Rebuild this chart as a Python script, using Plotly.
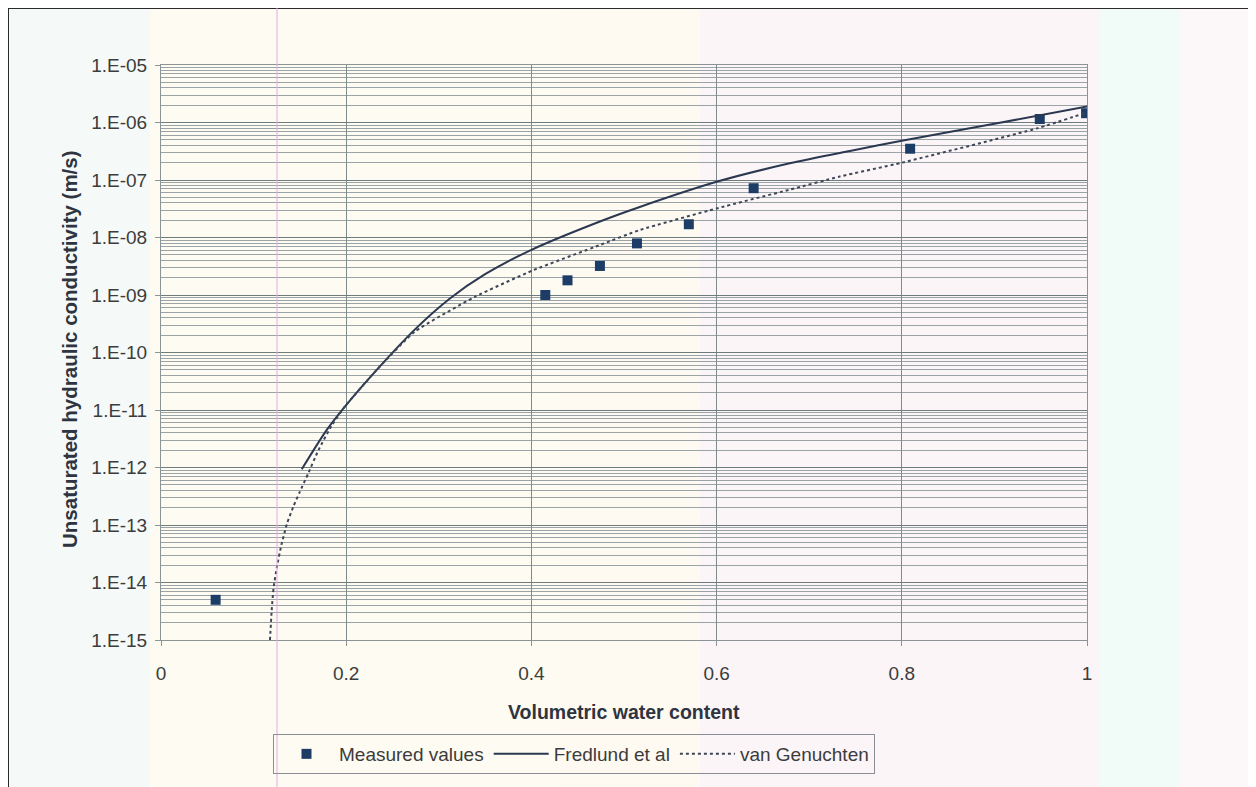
import plotly.graph_objects as go

# ---- data ----
measured_x = [0.059, 0.415, 0.439, 0.474, 0.514, 0.570, 0.640, 0.809, 0.949, 0.999]
measured_k = [5.0e-15, 1.0e-9, 1.8e-9, 3.2e-9, 7.9e-9, 1.7e-8, 7.2e-8, 3.5e-7, 1.15e-6, 1.45e-6]

fredlund_x = [0.152, 0.179, 0.199, 0.233, 0.274, 0.312, 0.35, 0.40, 0.474, 0.517, 0.60,
              0.679, 0.744, 0.80, 0.90, 1.0]
fredlund_k = [9.3e-13, 4.5e-12, 1.17e-11, 5.0e-11, 2.5e-10, 8.7e-10, 2.3e-9, 6.1e-9, 1.9e-8,
              3.4e-8, 9.3e-8, 1.95e-7, 3.2e-7, 4.8e-7, 9.5e-7, 1.9e-6]

genuchten_x = [0.1177, 0.1195, 0.1215, 0.125, 0.130, 0.136, 0.143, 0.150, 0.159, 0.170, 0.185,
               0.199, 0.233, 0.274, 0.339, 0.402, 0.474, 0.517, 0.60, 0.679, 0.733, 0.80,
               0.946, 1.0]
genuchten_k = [1.0e-15, 3.2e-15, 7.9e-15, 1.8e-14, 4.5e-14, 1.05e-13, 2.1e-13, 3.8e-13, 7.9e-13,
               2.0e-12, 5.6e-12, 1.17e-11, 5.0e-11, 2.3e-10, 9.3e-10, 2.7e-9, 7.4e-9, 1.35e-8,
               3.2e-8, 6.8e-8, 1.15e-7, 2.0e-7, 7.9e-7, 1.5e-6]

y_tick_vals = [1e-15, 1e-14, 1e-13, 1e-12, 1e-11, 1e-10, 1e-9, 1e-8, 1e-7, 1e-6, 1e-5]
y_tick_text = ["1.E-15", "1.E-14", "1.E-13", "1.E-12", "1.E-11", "1.E-10",
               "1.E-09", "1.E-08", "1.E-07", "1.E-06", "1.E-05"]
x_tick_vals = [0, 0.2, 0.4, 0.6, 0.8, 1.0]
x_tick_text = ["0", "0.2", "0.4", "0.6", "0.8", "1"]

FONT = "Liberation Sans, Arial, sans-serif"
TXT = "#3c3c3c"
TITLE = "#2e3440"
GRID = "#7f8c8e"

# plot area in screen pixels (page has an 8px body margin)
PL, PT, PW, PH = 161, 65, 926, 575


def px_x(sx):
    return (sx - PL) / PW


def px_y(sy):
    return (PT + PH - sy) / PH


fig = go.Figure()
fig.add_trace(go.Scatter(
    x=measured_x, y=measured_k, mode="markers", name="Measured values",
    marker=dict(symbol="square", size=10, color="#1d3d66", line=dict(width=0)),
))
fig.add_trace(go.Scatter(
    x=fredlund_x, y=fredlund_k, mode="lines", name="Fredlund et al",
    line=dict(color="#2b3850", width=2, shape="spline", smoothing=0.8),
))
fig.add_trace(go.Scatter(
    x=genuchten_x, y=genuchten_k, mode="lines", name="van Genuchten",
    line=dict(color="#3e4656", width=2, dash="dot", shape="spline", smoothing=0.5),
))

# faint scan-like background bands
bands = [
    (8, 150, "#f5faf8"), (150, 560, "#fdfbf2"), (560, 700, "#fefaf2"),
    (700, 1100, "#fbf5f8"), (1100, 1180, "#f1fbf8"), (1180, 1270, "#fcf7f8"),
]
shapes = []
for a, b, c in bands:
    shapes.append(dict(type="rect", xref="paper", yref="paper",
                       x0=px_x(a), x1=px_x(b), y0=px_y(800), y1=px_y(0),
                       fillcolor=c, line=dict(width=0), layer="below"))
shapes += [
    dict(type="rect", xref="paper", yref="paper",
         x0=px_x(8), x1=px_x(1275), y0=px_y(800), y1=px_y(8),
         line=dict(color="#2a2a2a", width=2), layer="above"),
    dict(type="line", xref="paper", yref="paper",
         x0=px_x(277), x1=px_x(277), y0=px_y(800), y1=px_y(0),
         line=dict(color="#eaa8e8", width=1), layer="above"),
]

fig.update_layout(
    width=1248, height=779,
    margin=dict(l=PL - 8, r=1248 - (PL - 8) - PW, t=PT - 8, b=779 - (PT - 8) - PH),
    paper_bgcolor="#fcfaf3",
    plot_bgcolor="rgba(0,0,0,0)",
    font=dict(family=FONT, size=19, color=TXT),
    showlegend=True,
    legend=dict(
        orientation="h", x=px_x(273), y=px_y(734), xanchor="left", yanchor="top",
        bordercolor="#8a8f96", borderwidth=1, bgcolor="rgba(0,0,0,0)",
        font=dict(family=FONT, size=19, color=TXT),
        itemwidth=55,
    ),
    xaxis=dict(
        range=[0, 1], tickvals=x_tick_vals, ticktext=x_tick_text,
        showgrid=True, gridcolor=GRID, gridwidth=1,
        showline=True, linecolor="#8a9496", mirror=True,
        ticks="outside", ticklen=5, tickcolor="#8a9496",
        ticklabelstandoff=11, zeroline=False,
        tickfont=dict(family=FONT, size=19, color=TXT),
    ),
    yaxis=dict(
        type="log", range=[-15, -5], tickvals=y_tick_vals, ticktext=y_tick_text,
        showgrid=True, gridcolor="#6f7c7e", gridwidth=1,
        minor=dict(dtick="D1", showgrid=True, gridcolor="#9aa4a6", gridwidth=1, ticks=""),
        showline=True, linecolor="#8a9496", mirror=True,
        ticks="outside", ticklen=5, tickcolor="#8a9496",
        ticklabelstandoff=4, zeroline=False,
        tickfont=dict(family=FONT, size=19, color=TXT),
    ),
    annotations=[
        dict(text="<b>Volumetric water content</b>", xref="paper", yref="paper",
             x=0.5, y=px_y(712), xanchor="center", yanchor="middle", showarrow=False,
             font=dict(family=FONT, size=19.5, color=TITLE)),
        dict(text="<b>Unsaturated hydraulic conductivity (m/s)</b>", xref="paper", yref="paper",
             x=px_x(70), y=px_y(349), xanchor="center", yanchor="middle", textangle=-90,
             showarrow=False, font=dict(family=FONT, size=20.5, color=TITLE)),
    ],
    shapes=shapes,
)

fig.write_html("out.html")
